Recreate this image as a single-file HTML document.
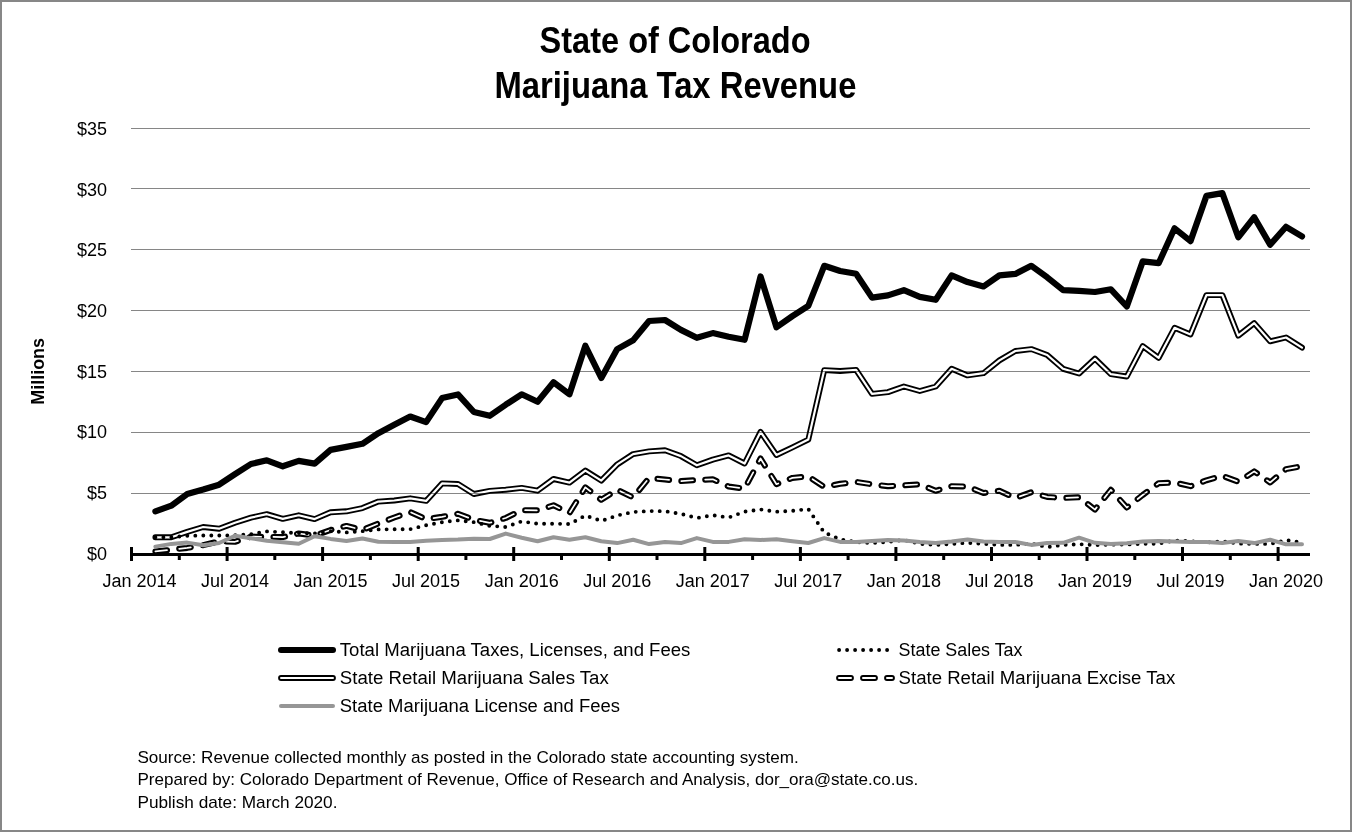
<!DOCTYPE html>
<html><head><meta charset="utf-8"><style>
html,body{margin:0;padding:0;background:#fff;}
body{width:1352px;height:832px;overflow:hidden;}
.frame{position:absolute;left:0;top:0;width:1348px;height:828px;border:2px solid #878787;background:#fff;}
svg{position:absolute;left:0;top:0;filter:grayscale(100%);}
</style></head><body>
<div class="frame"></div>
<svg width="1352" height="832" viewBox="0 0 1352 832">
<g stroke="#868686" stroke-width="1.2"><line x1="131" y1="128.5" x2="1310" y2="128.5"/><line x1="131" y1="188.5" x2="1310" y2="188.5"/><line x1="131" y1="249.5" x2="1310" y2="249.5"/><line x1="131" y1="310.5" x2="1310" y2="310.5"/><line x1="131" y1="371.5" x2="1310" y2="371.5"/><line x1="131" y1="432.5" x2="1310" y2="432.5"/><line x1="131" y1="493.5" x2="1310" y2="493.5"/></g>
<g font-family='"Liberation Sans", sans-serif' font-size="18" fill="#000"><text x="107" y="134.8" text-anchor="end">$35</text><text x="107" y="195.5" text-anchor="end">$30</text><text x="107" y="256.2" text-anchor="end">$25</text><text x="107" y="316.9" text-anchor="end">$20</text><text x="107" y="377.6" text-anchor="end">$15</text><text x="107" y="438.3" text-anchor="end">$10</text><text x="107" y="499.0" text-anchor="end">$5</text><text x="107" y="559.7" text-anchor="end">$0</text></g>
<defs><mask id="mr" maskUnits="userSpaceOnUse" x="0" y="0" width="1352" height="832"><rect width="1352" height="832" fill="#fff"/><path d="M155.39,537.30 L171.31,537.30 L187.24,531.90 L203.16,527.00 L219.09,528.70 L235.01,522.70 L250.94,517.60 L266.86,514.20 L282.79,518.90 L298.71,515.30 L314.64,519.10 L330.56,512.30 L346.49,511.30 L362.41,508.10 L378.34,501.60 L394.26,500.50 L410.19,498.30 L426.11,500.90 L442.04,483.40 L457.96,484.00 L473.89,494.00 L489.81,490.90 L505.74,489.70 L521.66,487.90 L537.59,490.70 L553.51,479.00 L569.44,482.60 L585.36,470.60 L601.29,480.60 L617.21,464.40 L633.14,454.10 L649.06,451.40 L664.99,450.30 L680.91,456.10 L696.84,465.30 L712.76,459.60 L728.69,455.40 L744.61,463.50 L760.54,431.90 L776.46,455.00 L792.39,447.40 L808.31,439.60 L824.24,370.10 L840.16,371.00 L856.09,369.90 L872.01,393.90 L887.94,392.10 L903.86,386.50 L919.79,391.00 L935.71,386.50 L951.64,368.80 L967.56,375.40 L983.49,373.20 L999.41,360.40 L1015.34,351.00 L1031.26,349.10 L1047.19,355.00 L1063.11,368.80 L1079.04,373.50 L1094.96,358.70 L1110.89,374.20 L1126.81,376.50 L1142.74,346.10 L1158.66,357.80 L1174.59,327.80 L1190.51,334.40 L1206.44,295.10 L1222.36,295.10 L1238.29,335.60 L1254.21,323.10 L1270.14,341.30 L1286.06,337.50 L1301.99,347.60" fill="none" stroke="#000" stroke-width="2.2" stroke-linejoin="round" stroke-linecap="round"/></mask><mask id="me" maskUnits="userSpaceOnUse" x="0" y="0" width="1352" height="832"><rect width="1352" height="832" fill="#fff"/><path d="M155.39,551.40 L171.31,549.70 L187.24,547.90 L203.16,545.20 L219.09,541.30 L235.01,541.80 L250.94,536.60 L266.86,536.80 L282.79,537.10 L298.71,533.50 L314.64,535.60 L330.56,530.00 L346.49,525.90 L362.41,530.00 L378.34,523.50 L394.26,517.50 L410.19,512.00 L426.11,519.20 L442.04,516.80 L457.96,513.80 L473.89,519.80 L489.81,522.80 L505.74,518.00 L521.66,510.20 L537.59,510.30 L553.51,505.30 L569.44,513.10 L585.36,487.30 L601.29,499.80 L617.21,489.70 L633.14,497.50 L649.06,478.00 L664.99,479.50 L680.91,481.10 L696.84,480.00 L712.76,479.30 L728.69,486.50 L744.61,488.70 L760.54,458.50 L776.46,484.20 L792.39,477.90 L808.31,476.40 L824.24,486.90 L840.16,483.80 L856.09,481.90 L872.01,484.30 L887.94,486.20 L903.86,485.30 L919.79,484.30 L935.71,490.80 L951.64,486.20 L967.56,486.50 L983.49,493.00 L999.41,490.80 L1015.34,498.00 L1031.26,492.30 L1047.19,496.90 L1063.11,498.00 L1079.04,497.30 L1094.96,509.60 L1110.89,489.80 L1126.81,507.50 L1142.74,495.00 L1158.66,483.20 L1174.59,482.50 L1190.51,486.20 L1206.44,480.30 L1222.36,475.80 L1238.29,481.70 L1254.21,471.40 L1270.14,482.50 L1286.06,469.10 L1301.99,466.20" fill="none" stroke="#000" stroke-width="1.7" stroke-dasharray="11.7 12.25" stroke-linejoin="round" stroke-linecap="round"/></mask></defs>
<path d="M155.39,511.40 L171.31,505.70 L187.24,493.90 L203.16,489.50 L219.09,484.70 L235.01,474.20 L250.94,464.00 L266.86,460.30 L282.79,466.30 L298.71,460.90 L314.64,463.60 L330.56,449.90 L346.49,446.90 L362.41,443.80 L378.34,433.20 L394.26,424.70 L410.19,416.50 L426.11,422.10 L442.04,398.10 L457.96,394.40 L473.89,412.00 L489.81,415.80 L505.74,404.70 L521.66,394.30 L537.59,401.80 L553.51,382.30 L569.44,394.30 L585.36,345.80 L601.29,378.00 L617.21,349.10 L633.14,340.20 L649.06,321.00 L664.99,320.00 L680.91,329.90 L696.84,337.80 L712.76,333.10 L728.69,336.80 L744.61,339.80 L760.54,276.50 L776.46,327.20 L792.39,316.10 L808.31,305.80 L824.24,265.80 L840.16,271.00 L856.09,273.70 L872.01,297.60 L887.94,295.40 L903.86,290.20 L919.79,296.90 L935.71,299.80 L951.64,275.40 L967.56,282.10 L983.49,286.50 L999.41,275.40 L1015.34,273.90 L1031.26,265.80 L1047.19,277.30 L1063.11,290.20 L1079.04,290.80 L1094.96,292.00 L1110.89,289.30 L1126.81,306.50 L1142.74,261.40 L1158.66,263.20 L1174.59,228.30 L1190.51,241.10 L1206.44,195.90 L1222.36,193.10 L1238.29,237.30 L1254.21,217.20 L1270.14,244.80 L1286.06,226.80 L1301.99,236.40" fill="none" stroke="#000" stroke-width="6.2" stroke-linejoin="round" stroke-linecap="round"/>
<path d="M155.39,537.30 L171.31,537.30 L187.24,535.80 L203.16,535.50 L219.09,535.50 L235.01,535.30 L250.94,534.30 L266.86,531.40 L282.79,532.30 L298.71,533.10 L314.64,533.40 L330.56,531.20 L346.49,532.40 L362.41,531.20 L378.34,529.40 L394.26,529.30 L410.19,529.20 L426.11,525.20 L442.04,522.20 L457.96,520.40 L473.89,522.20 L489.81,525.80 L505.74,527.00 L521.66,521.40 L537.59,523.70 L553.51,523.70 L569.44,524.10 L585.36,515.50 L601.29,520.90 L617.21,515.50 L633.14,512.00 L649.06,511.10 L664.99,511.20 L680.91,513.90 L696.84,518.00 L712.76,515.30 L728.69,517.50 L744.61,511.70 L760.54,509.50 L776.46,511.70 L792.39,510.80 L808.31,509.10 L824.24,532.50 L840.16,539.30 L856.09,542.00 L872.01,543.00 L887.94,542.00 L903.86,539.90 L919.79,543.90 L935.71,544.90 L951.64,543.90 L967.56,542.80 L983.49,543.90 L999.41,544.90 L1015.34,544.90 L1031.26,543.50 L1047.19,547.10 L1063.11,544.90 L1079.04,544.20 L1094.96,545.10 L1110.89,544.70 L1126.81,544.50 L1142.74,543.90 L1158.66,543.60 L1174.59,540.60 L1190.51,541.30 L1206.44,542.40 L1222.36,541.30 L1238.29,543.60 L1254.21,543.90 L1270.14,543.90 L1286.06,540.20 L1301.99,542.40" fill="none" stroke="#000" stroke-width="3.9" stroke-dasharray="0 8" stroke-linecap="round" stroke-linejoin="round"/>
<path d="M155.39,537.30 L171.31,537.30 L187.24,531.90 L203.16,527.00 L219.09,528.70 L235.01,522.70 L250.94,517.60 L266.86,514.20 L282.79,518.90 L298.71,515.30 L314.64,519.10 L330.56,512.30 L346.49,511.30 L362.41,508.10 L378.34,501.60 L394.26,500.50 L410.19,498.30 L426.11,500.90 L442.04,483.40 L457.96,484.00 L473.89,494.00 L489.81,490.90 L505.74,489.70 L521.66,487.90 L537.59,490.70 L553.51,479.00 L569.44,482.60 L585.36,470.60 L601.29,480.60 L617.21,464.40 L633.14,454.10 L649.06,451.40 L664.99,450.30 L680.91,456.10 L696.84,465.30 L712.76,459.60 L728.69,455.40 L744.61,463.50 L760.54,431.90 L776.46,455.00 L792.39,447.40 L808.31,439.60 L824.24,370.10 L840.16,371.00 L856.09,369.90 L872.01,393.90 L887.94,392.10 L903.86,386.50 L919.79,391.00 L935.71,386.50 L951.64,368.80 L967.56,375.40 L983.49,373.20 L999.41,360.40 L1015.34,351.00 L1031.26,349.10 L1047.19,355.00 L1063.11,368.80 L1079.04,373.50 L1094.96,358.70 L1110.89,374.20 L1126.81,376.50 L1142.74,346.10 L1158.66,357.80 L1174.59,327.80 L1190.51,334.40 L1206.44,295.10 L1222.36,295.10 L1238.29,335.60 L1254.21,323.10 L1270.14,341.30 L1286.06,337.50 L1301.99,347.60" fill="none" stroke="#000" stroke-width="5.9" stroke-linejoin="round" stroke-linecap="round" mask="url(#mr)"/>
<path d="M155.39,551.40 L171.31,549.70 L187.24,547.90 L203.16,545.20 L219.09,541.30 L235.01,541.80 L250.94,536.60 L266.86,536.80 L282.79,537.10 L298.71,533.50 L314.64,535.60 L330.56,530.00 L346.49,525.90 L362.41,530.00 L378.34,523.50 L394.26,517.50 L410.19,512.00 L426.11,519.20 L442.04,516.80 L457.96,513.80 L473.89,519.80 L489.81,522.80 L505.74,518.00 L521.66,510.20 L537.59,510.30 L553.51,505.30 L569.44,513.10 L585.36,487.30 L601.29,499.80 L617.21,489.70 L633.14,497.50 L649.06,478.00 L664.99,479.50 L680.91,481.10 L696.84,480.00 L712.76,479.30 L728.69,486.50 L744.61,488.70 L760.54,458.50 L776.46,484.20 L792.39,477.90 L808.31,476.40 L824.24,486.90 L840.16,483.80 L856.09,481.90 L872.01,484.30 L887.94,486.20 L903.86,485.30 L919.79,484.30 L935.71,490.80 L951.64,486.20 L967.56,486.50 L983.49,493.00 L999.41,490.80 L1015.34,498.00 L1031.26,492.30 L1047.19,496.90 L1063.11,498.00 L1079.04,497.30 L1094.96,509.60 L1110.89,489.80 L1126.81,507.50 L1142.74,495.00 L1158.66,483.20 L1174.59,482.50 L1190.51,486.20 L1206.44,480.30 L1222.36,475.80 L1238.29,481.70 L1254.21,471.40 L1270.14,482.50 L1286.06,469.10 L1301.99,466.20" fill="none" stroke="#000" stroke-width="6" stroke-dasharray="11.7 12.25" stroke-linejoin="round" stroke-linecap="round" mask="url(#me)"/>
<path d="M155.39,546.60 L171.31,543.90 L187.24,542.60 L203.16,545.20 L219.09,543.00 L235.01,535.80 L250.94,538.20 L266.86,540.80 L282.79,542.30 L298.71,543.80 L314.64,536.30 L330.56,538.90 L346.49,540.90 L362.41,538.50 L378.34,541.80 L394.26,541.90 L410.19,542.00 L426.11,540.80 L442.04,539.90 L457.96,539.60 L473.89,538.70 L489.81,539.00 L505.74,533.60 L521.66,537.80 L537.59,541.30 L553.51,537.30 L569.44,539.70 L585.36,537.30 L601.29,541.20 L617.21,543.10 L633.14,539.70 L649.06,544.10 L664.99,542.00 L680.91,543.10 L696.84,538.10 L712.76,541.90 L728.69,541.90 L744.61,539.20 L760.54,540.00 L776.46,539.20 L792.39,541.20 L808.31,543.00 L824.24,538.10 L840.16,541.90 L856.09,542.00 L872.01,541.00 L887.94,539.90 L903.86,540.60 L919.79,542.00 L935.71,543.00 L951.64,541.60 L967.56,539.60 L983.49,541.60 L999.41,542.00 L1015.34,542.00 L1031.26,544.90 L1047.19,543.00 L1063.11,542.80 L1079.04,537.70 L1094.96,542.80 L1110.89,544.10 L1126.81,543.30 L1142.74,541.60 L1158.66,540.90 L1174.59,541.60 L1190.51,542.10 L1206.44,542.10 L1222.36,543.10 L1238.29,540.90 L1254.21,543.10 L1270.14,539.70 L1286.06,544.30 L1301.99,544.30" fill="none" stroke="#969696" stroke-width="4" stroke-linejoin="round" stroke-linecap="round"/>
<g fill="#000"><rect x="130" y="553" width="1180" height="3"/><rect x="130.0" y="547" width="3" height="14"/><rect x="177.8" y="553" width="3" height="7"/><rect x="225.6" y="547" width="3" height="14"/><rect x="273.3" y="553" width="3" height="7"/><rect x="321.1" y="547" width="3" height="14"/><rect x="368.9" y="553" width="3" height="7"/><rect x="416.7" y="547" width="3" height="14"/><rect x="464.4" y="553" width="3" height="7"/><rect x="512.2" y="547" width="3" height="14"/><rect x="560.0" y="553" width="3" height="7"/><rect x="607.8" y="547" width="3" height="14"/><rect x="655.5" y="553" width="3" height="7"/><rect x="703.3" y="547" width="3" height="14"/><rect x="751.1" y="553" width="3" height="7"/><rect x="798.9" y="547" width="3" height="14"/><rect x="846.6" y="553" width="3" height="7"/><rect x="894.4" y="547" width="3" height="14"/><rect x="942.2" y="553" width="3" height="7"/><rect x="990.0" y="547" width="3" height="14"/><rect x="1037.7" y="553" width="3" height="7"/><rect x="1085.5" y="547" width="3" height="14"/><rect x="1133.3" y="553" width="3" height="7"/><rect x="1181.0" y="547" width="3" height="14"/><rect x="1228.8" y="553" width="3" height="7"/><rect x="1276.6" y="547" width="3" height="14"/></g>
<g font-family='"Liberation Sans", sans-serif' font-size="18" fill="#000"><text x="139.5" y="587" text-anchor="middle">Jan 2014</text><text x="235.0" y="587" text-anchor="middle">Jul 2014</text><text x="330.6" y="587" text-anchor="middle">Jan 2015</text><text x="426.1" y="587" text-anchor="middle">Jul 2015</text><text x="521.7" y="587" text-anchor="middle">Jan 2016</text><text x="617.2" y="587" text-anchor="middle">Jul 2016</text><text x="712.8" y="587" text-anchor="middle">Jan 2017</text><text x="808.3" y="587" text-anchor="middle">Jul 2017</text><text x="903.9" y="587" text-anchor="middle">Jan 2018</text><text x="999.4" y="587" text-anchor="middle">Jul 2018</text><text x="1095.0" y="587" text-anchor="middle">Jan 2019</text><text x="1190.5" y="587" text-anchor="middle">Jul 2019</text><text x="1286.1" y="587" text-anchor="middle">Jan 2020</text></g>
<g font-family='"Liberation Sans", sans-serif' font-weight="bold" font-size="36" fill="#000"><text x="539.6" y="52.6" textLength="271" lengthAdjust="spacingAndGlyphs">State of Colorado</text><text x="494.4" y="97.5" textLength="362" lengthAdjust="spacingAndGlyphs">Marijuana Tax Revenue</text></g>
<text transform="translate(44,404.7) rotate(-90)" font-family='"Liberation Sans", sans-serif' font-weight="bold" font-size="19" textLength="66.7" lengthAdjust="spacingAndGlyphs">Millions</text>
<line x1="281" y1="650" x2="333" y2="650" stroke="#000" stroke-width="6" stroke-linecap="round"/><line x1="281" y1="678" x2="333" y2="678" stroke="#000" stroke-width="5.8" stroke-linecap="round"/><line x1="281" y1="678" x2="333" y2="678" stroke="#fff" stroke-width="2" stroke-linecap="round"/><line x1="281" y1="706" x2="333" y2="706" stroke="#969696" stroke-width="4" stroke-linecap="round"/><line x1="839.1" y1="650" x2="888" y2="650" stroke="#000" stroke-width="3.9" stroke-dasharray="0 8" stroke-linecap="round"/><line x1="839" y1="678" x2="892" y2="678" stroke="#000" stroke-width="5.8" stroke-dasharray="12 12" stroke-linecap="round"/><line x1="839" y1="678" x2="892" y2="678" stroke="#fff" stroke-width="2" stroke-dasharray="12 12" stroke-linecap="round"/><g font-family='"Liberation Sans", sans-serif' font-size="18" fill="#000"><text x="339.8" y="655.8" textLength="350.6" lengthAdjust="spacingAndGlyphs">Total Marijuana Taxes, Licenses, and Fees</text><text x="339.8" y="683.6" textLength="269" lengthAdjust="spacingAndGlyphs">State Retail Marijuana Sales Tax</text><text x="339.8" y="711.5" textLength="280.2" lengthAdjust="spacingAndGlyphs">State Marijuana License and Fees</text><text x="898.6" y="655.8" textLength="123.9" lengthAdjust="spacingAndGlyphs">State Sales Tax</text><text x="898.6" y="683.6" textLength="276.6" lengthAdjust="spacingAndGlyphs">State Retail Marijuana Excise Tax</text></g>
<g font-family='"Liberation Sans", sans-serif' font-size="17" fill="#000"><text x="137.4" y="762.9" textLength="661.3" lengthAdjust="spacingAndGlyphs">Source: Revenue collected monthly as posted in the Colorado state accounting system.</text><text x="137.4" y="785.1" textLength="780.8" lengthAdjust="spacingAndGlyphs">Prepared by: Colorado Department of Revenue, Office of Research and Analysis, dor_ora@state.co.us.</text><text x="137.4" y="808.3" textLength="200.1" lengthAdjust="spacingAndGlyphs">Publish date: March 2020.</text></g>
</svg>
</body></html>
